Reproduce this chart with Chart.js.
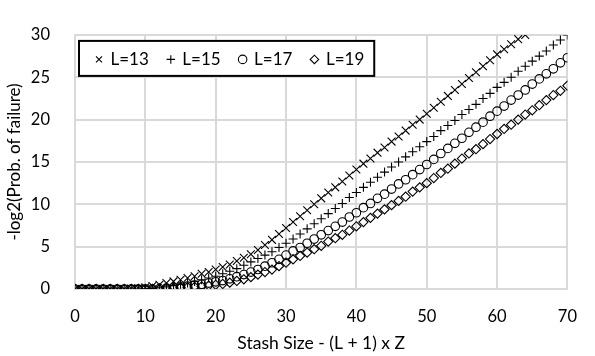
<!DOCTYPE html>
<html>
<head>
<meta charset="utf-8">
<script src="https://cdn.jsdelivr.net/npm/chart.js@4/dist/chart.umd.min.js"></script>
<style>
html,body{margin:0;padding:0;background:#fff;}
#wrap{width:595px;height:356px;}
</style>
</head>
<body>
<div id="wrap"><canvas id="c" width="595" height="356"></canvas></div>
<script>
const stashSize = [0,1,2,3,4,5,6,7,8,9,10,11,12,13,14,15,16,17,18,19,20,21,22,23,24,25,26,27,28,29,30,31,32,33,34,35,36,37,38,39,40,41,42,43,44,45,46,47,48,49,50,51,52,53,54,55,56,57,58,59,60,61,62,63,64,65,66,67,68,69,70];
const seriesNames = ["L=13","L=15","L=17","L=19"];
const L13 = [0,0,0,0,0,0,0,0,0.05,0.1,0.2,0.35,0.5,0.7,0.9,1.1,1.3,1.5,1.8,2.0,2.3,2.6,2.9,3.3,3.7,4.1,4.6,5.2,5.8,6.5,7.2,7.9,8.6,9.3,10.0,10.7,11.4,12.0,12.7,13.4,14.1,14.8,15.4,16.1,16.7,17.4,18.0,18.7,19.4,20.0,20.7,21.4,22.1,22.8,23.5,24.2,24.9,25.6,26.3,27.0,27.7,28.3,28.9,29.5,30.0];
const L15 = [0,0,0,0,0,0,0,0,0,0,0,0.05,0.15,0.25,0.4,0.55,0.7,0.9,1.1,1.3,1.5,1.8,2.1,2.4,2.8,3.2,3.6,4.0,4.4,4.9,5.4,5.9,6.5,7.1,7.7,8.3,8.9,9.5,10.1,10.8,11.4,12.0,12.6,13.2,13.8,14.4,15.0,15.6,16.2,16.8,17.4,18.0,18.7,19.3,19.9,20.6,21.2,21.8,22.5,23.1,23.8,24.4,25.0,25.7,26.3,26.9,27.5,28.1,28.8,29.4,30.0];
const L17 = [0,0,0,0,0,0,0,0,0,0,0,0,0.05,0.1,0.15,0.25,0.35,0.45,0.55,0.7,0.85,1.0,1.2,1.45,1.7,2.0,2.3,2.7,3.1,3.5,4.0,4.5,4.9,5.4,5.9,6.4,6.9,7.4,7.9,8.5,9.0,9.6,10.1,10.7,11.2,11.8,12.4,12.9,13.5,14.1,14.7,15.3,16.0,16.6,17.2,17.8,18.5,19.1,19.7,20.4,21.0,21.6,22.3,22.9,23.5,24.2,24.8,25.4,26.0,26.7,27.3];
const L19 = [0,0,0,0,0,0,0,0,0,0,0,0,0,0.05,0.1,0.15,0.2,0.25,0.3,0.4,0.5,0.6,0.75,0.95,1.15,1.4,1.7,2.0,2.3,2.7,3.1,3.5,3.9,4.3,4.7,5.1,5.6,6.0,6.4,6.9,7.4,7.9,8.4,8.9,9.4,9.9,10.4,10.9,11.5,12.0,12.5,13.1,13.7,14.2,14.8,15.4,16.0,16.5,17.1,17.7,18.3,18.9,19.4,20.0,20.6,21.1,21.7,22.3,22.9,23.4,24.0];
const xTicks = [0,10,20,30,40,50,60,70];
const yTicks = [0,5,10,15,20,25,30];
const xTitle = "Stash Size - (L + 1) x Z";
const yTitle = "-log2(Prob. of failure)";

const allSeries = [L13, L15, L17, L19];
const styles = [
  {pointStyle:'crossRot', radius:5.5},
  {pointStyle:'cross', radius:4.5},
  {pointStyle:'circle', radius:4.3},
  {pointStyle:'rectRot', radius:4.6}
];
const FONT = "Lato, 'Open Sans', sans-serif";
const LEG_PAD = 19;

const datasets = allSeries.map((vals, i) => ({
  label: seriesNames[i],
  data: vals.map((v, j) => ({x: stashSize[j], y: v})),
  showLine: false,
  pointStyle: styles[i].pointStyle,
  pointRadius: styles[i].radius,
  pointHoverRadius: styles[i].radius,
  pointBorderColor: '#000',
  pointBackgroundColor: 'rgba(0,0,0,0)',
  borderColor: '#000',
  backgroundColor: 'rgba(0,0,0,0)',
  pointBorderWidth: 1.1
}));

const legendBoxPlugin = {
  id: 'legendBox',
  beforeLayout(chart) {
    if (chart.legend) chart.legend.isHorizontal = () => true;
  },
  afterLayout(chart) {
    const lg = chart.legend;
    if (!lg) return;
    const ca = chart.chartArea;
    lg.left = ca.left + 21 - LEG_PAD;
    lg.top = ca.top + 16 - LEG_PAD;
    lg.right = lg.left + lg.width;
    lg.bottom = lg.top + lg.height;
  },
  beforeDatasetsDraw(chart) {
    const lg = chart.legend;
    if (!lg || !lg.legendHitBoxes || !lg.legendHitBoxes.length) return;
    const hb = lg.legendHitBoxes;
    let x = lg.left + LEG_PAD;
    hb.forEach(h => { x += h.width + LEG_PAD; });
    const lastRight = x - LEG_PAD;
    const left = lg.left + LEG_PAD - 17;
    const right = lastRight + 10;
    const top = lg.top + LEG_PAD - 10;
    const bottom = top + 35;
    const ctx = chart.ctx;
    ctx.save();
    ctx.fillStyle = '#fff';
    ctx.fillRect(left, top, right - left, bottom - top);
    ctx.lineWidth = 2;
    ctx.strokeStyle = '#000';
    ctx.strokeRect(left, top, right - left, bottom - top);
    ctx.restore();
    lg.draw();
  }
};

new Chart(document.getElementById('c'), {
  type: 'scatter',
  data: { datasets },
  plugins: [legendBoxPlugin],
  options: {
    responsive: false,
    animation: false,
    events: [],
    layout: { padding: { left: 0, top: 15, right: 11, bottom: 0 } },
    plugins: {
      tooltip: { enabled: false },
      legend: {
        display: true,
        position: 'chartArea',
        align: 'start',
        labels: {
          usePointStyle: true,
          boxWidth: 6,
          boxHeight: 6,
          padding: LEG_PAD,
          color: '#000',
          font: { family: FONT, size: 17 }
        }
      }
    },
    scales: {
      x: {
        type: 'linear',
        min: 0, max: 70,
        afterBuildTicks(scale) { scale.ticks = xTicks.map(v => ({value: v})); },
        afterFit(scale) { scale.height = 67; },
        grid: { color: '#d9d9d9', lineWidth: 2, drawTicks: false },
        border: { color: '#d9d9d9', width: 2 },
        ticks: { color: '#000', padding: 18, font: { family: FONT, size: 16.5 } },
        title: { display: true, text: xTitle, color: '#000', padding: { top: 0, bottom: 2 }, font: { family: FONT, size: 17.5 } }
      },
      y: {
        type: 'linear',
        min: 0, max: 30,
        afterBuildTicks(scale) { scale.ticks = yTicks.map(v => ({value: v})); },
        afterFit(scale) { scale.width = 75; },
        grid: { color: '#d9d9d9', lineWidth: 2, drawTicks: false },
        border: { color: '#d9d9d9', width: 2 },
        ticks: { color: '#000', padding: 25, font: { family: FONT, size: 16.5 } },
        title: { display: true, text: yTitle, color: '#000', padding: { top: 4, bottom: 0 }, font: { family: FONT, size: 17 } }
      }
    }
  }
});
</script>
</body>
</html>
